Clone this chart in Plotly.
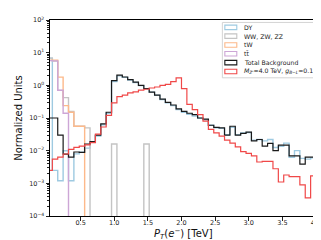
import numpy as np
import plotly.graph_objects as go

# ---------------- data ----------------
bin_lo, bin_hi, n_bins = 0.0, 4.0, 50
edges = np.linspace(bin_lo, bin_hi, n_bins + 1)

dy = [6.8, 0.0025, 0.0012, 0.0099, 0.0012, 0.0080, 0.0090, 0.012, 0.018, 0.028,
      0.062, 0.14, 1.30, 1.95, 1.75, 1.45, 1.22, 0.98, 0.78, 0.62,
      0.50, 0.37, 0.29, 0.24, 0.18, 0.15, 0.13, 0.115, 0.098, 0.088,
      0.060, 0.050, 0.048, 0.031, 0.052, 0.031, 0.035, 0.036, 0.021, 0.022,
      0.020, 0.022, 0.0125, 0.0135, 0.017, 0.0063, 0.010, 0.0058, 0.0055, 0.006]

diboson = [6.8, 5.5, 0.70, 0.42, 0.16, 0.056, 0.056, 0.050, 0, 0,
           0, 0, 0.016, 0, 0, 0, 0, 0, 0.016, 0,
           0, 0, 0, 0, 0, 0, 0, 0, 0, 0,
           0, 0, 0, 0, 0, 0, 0, 0, 0, 0,
           0, 0, 0, 0, 0, 0, 0, 0, 0, 0]

tw = [5.9, 5.9, 1.78, 0.24, 0.15, 0.056, 0.056, 0, 0, 0,
      0, 0, 0, 0, 0, 0, 0, 0, 0, 0,
      0, 0, 0, 0, 0, 0, 0, 0, 0, 0,
      0, 0, 0, 0, 0, 0, 0, 0, 0, 0,
      0, 0, 0, 0, 0, 0, 0, 0, 0, 0]

ttbar = [5.7, 5.6, 0.71, 0.14, 0, 0, 0, 0, 0, 0,
         0, 0, 0, 0, 0, 0, 0, 0, 0, 0,
         0, 0, 0, 0, 0, 0, 0, 0, 0, 0,
         0, 0, 0, 0, 0, 0, 0, 0, 0, 0,
         0, 0, 0, 0, 0, 0, 0, 0, 0, 0]

total_bkg = [0.10, 0.10, 0.030, 0.0078, 0.0063, 0.0091, 0.0089, 0.016, 0.019, 0.030,
             0.066, 0.15, 1.40, 2.05, 1.80, 1.50, 1.25, 1.00, 0.80, 0.62,
             0.50, 0.38, 0.30, 0.25, 0.19, 0.16, 0.14, 0.126, 0.10, 0.093,
             0.060, 0.052, 0.050, 0.030, 0.056, 0.030, 0.034, 0.037, 0.020, 0.022,
             0.0138, 0.0167, 0.010, 0.0147, 0.0147, 0.0069, 0.0069, 0.0039, 0.0063, 0.0063]

signal = [0.0025, 0.0055, 0.0063, 0.0079, 0.011, 0.0126, 0.0138, 0.015, 0.0177, 0.032,
          0.053, 0.12, 0.29, 0.45, 0.50, 0.59, 0.63, 0.71, 0.76, 0.83,
          0.89, 1.00, 1.07, 1.30, 1.70, 0.79, 0.26, 0.18, 0.126, 0.080,
          0.045, 0.035, 0.028, 0.021, 0.017, 0.013, 0.0093, 0.0083, 0.0069, 0.0045,
          0.0047, 0.0047, 0.0028, 0.0011, 0.0018, 0.0016, 0.0016, 0.0009, 0.00036, 0.0017]

labels = ["DY", "WW, ZW, ZZ", "tW", "tt\u0304", "Total Background",
          "<i>M</i><sub><i>Z'</i></sub>=4.0 TeV, <i>g</i><sub><i>B\u2212L</i></sub>=0.1"]
colors = ["#9ecae1", "#c4c4c4", "#fdb98a", "#cda6d6", "#1a1a1a", "#f04848"]
widths = [1.4, 1.4, 1.4, 1.4, 1.2, 1.2]
series = [dy, diboson, tw, ttbar, total_bkg, signal]

x_ticks = [0.5, 1.0, 1.5, 2.0, 2.5, 3.0, 3.5, 4.0]
x_ticktext = ["0.5", "1.0", "1.5", "2.0", "2.5", "3.0", "3.5", "4.0"]
y_exps = [-4, -3, -2, -1, 0, 1, 2]
x_title = "<i>P</i><sub><i>T</i></sub>(<i>e</i><sup>\u2212</sup>) [TeV]"
y_title = "Normalized Units"

# ---------------- figure ----------------
W, H = 321, 240
ML, MR, MT, MB = 42, 12, 8, 32
FLOOR = 1e-9  # how zero bins are shown on a log axis (below the visible range)

fig = go.Figure()
for vals, col, lw, name in zip(series, colors, widths, labels):
    v = np.array(vals, dtype=float)
    v = np.where(v > 0, v, FLOOR)
    xs = list(edges[:-1]) + [edges[-1], edges[-1]]
    ys = list(v) + [v[-1], FLOOR]
    fig.add_trace(go.Scatter(x=xs, y=ys, mode="lines", line=dict(color=col, width=lw, shape="hv"),
                             name=name, showlegend=False, hoverinfo="skip"))

def px(xp):
    return (xp - ML) / (W - ML - MR)

def py(yp):
    return 1 - (yp - MT) / (H - MT - MB)

shapes = []
annotations = []
# legend frame
shapes.append(dict(type="rect", xref="paper", yref="paper", x0=px(215), x1=px(307.5), y0=py(67), y1=py(10.5),
                   line=dict(color="#d4d4d4", width=1), fillcolor="rgba(255,255,255,0.85)", layer="above"))
for i, (name, col) in enumerate(zip(labels, colors)):
    yc = 15.5 + 9 * i
    shapes.append(dict(type="rect", xref="paper", yref="paper", x0=px(217.5), x1=px(229.5),
                       y0=py(yc + 2.3), y1=py(yc - 2.3), line=dict(color=col, width=1.1),
                       fillcolor="rgba(0,0,0,0)", layer="above"))
    annotations.append(dict(xref="paper", yref="paper", x=px(234.5), y=py(yc), text=name, showarrow=False,
                            xanchor="left", yanchor="middle", font=dict(size=6.2, color="#222")))
# x-axis title
annotations.append(dict(xref="paper", yref="paper", x=px(175.5), y=py(226), text=x_title, showarrow=False,
                        xanchor="center", yanchor="middle", font=dict(size=10, color="#111")))

fig.update_layout(
    width=W, height=H, margin=dict(l=ML, r=MR, t=MT, b=MB),
    paper_bgcolor="white", plot_bgcolor="white",
    font=dict(family="DejaVu Sans", color="#222"),
    shapes=shapes, annotations=annotations, showlegend=False,
)
fig.update_xaxes(range=[0.045, 4.0], showgrid=False, zeroline=False, showline=True, mirror=True,
                 linecolor="black", linewidth=1, ticks="outside", ticklen=3.5, tickwidth=0.8, tickcolor="#222",
                 tickvals=x_ticks, ticktext=x_ticktext, tickfont=dict(size=6.5, color="#222"),
                 ticklabelstandoff=-3)
minor_vals = [m * 10.0 ** e for e in y_exps[:-1] for m in range(2, 10)]
fig.update_yaxes(type="log", range=[-4, 2], showgrid=False, zeroline=False, showline=True, mirror=True,
                 linecolor="black", linewidth=1, ticks="outside", ticklen=3.5, tickwidth=0.8, tickcolor="#222",
                 tickvals=[10.0 ** e for e in y_exps],
                 ticktext=["10<sup>%s</sup>" % (str(e).replace("-", "\u2212")) for e in y_exps],
                 tickfont=dict(size=6.5, color="#222"),
                 minor=dict(tickvals=minor_vals, ticks="outside", ticklen=2, tickwidth=0.6, tickcolor="#222"),
                 title=dict(text=y_title, font=dict(size=10, color="#111"), standoff=4))

fig.write_html("out.html")
